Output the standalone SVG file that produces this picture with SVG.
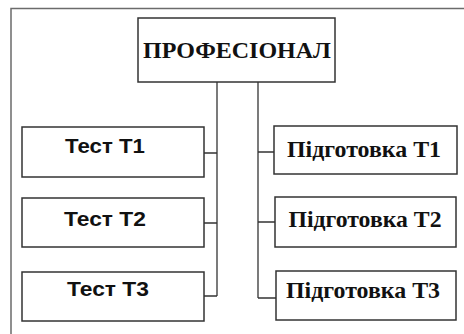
<svg xmlns="http://www.w3.org/2000/svg" width="464" height="334" viewBox="0 0 464 334">
<style>
.frame{fill:none;stroke:#6b6b6b;stroke-width:1.5}
.box{fill:#fff;stroke:#333;stroke-width:1.5}
.ln{fill:none;stroke:#333;stroke-width:1.3}
.serif{font-family:"Liberation Serif","Times New Roman",serif;font-weight:bold;fill:#111;text-anchor:middle}
.sans{font-family:"Liberation Sans",Arial,sans-serif;font-weight:bold;fill:#111;text-anchor:middle}
</style>
<rect width="464" height="334" fill="#fff"/>
<path class="frame" d="M11,334 V8.5 H464"/>
<g id="connectors">
<path class="ln" d="M217,82 V296"/>
<path class="ln" d="M258,82 V298"/>
<path class="ln" d="M204,153 H217 M204,223 H217 M204,296 H217"/>
<path class="ln" d="M258,152 H274 M258,222 H275 M258,298 H276"/>
</g>
<g id="profesional">
<rect class="box" x="138" y="18" width="197" height="64"/>
<text class="serif" x="237" y="58" font-size="24">ПРОФЕСІОНАЛ</text>
</g>
<g id="test1">
<rect class="box" x="22" y="127" width="182" height="50"/>
<text class="sans" x="105" y="153" font-size="20.5" textLength="80" lengthAdjust="spacingAndGlyphs">Тест Т1</text>
</g>
<g id="test2">
<rect class="box" x="22" y="198" width="182" height="49"/>
<text class="sans" x="105" y="226" font-size="20.5" textLength="82" lengthAdjust="spacingAndGlyphs">Тест Т2</text>
</g>
<g id="test3">
<rect class="box" x="22" y="272" width="182" height="49"/>
<text class="sans" x="108" y="296" font-size="20.5" textLength="82" lengthAdjust="spacingAndGlyphs">Тест Т3</text>
</g>
<g id="pidg1">
<rect class="box" x="274" y="126" width="183" height="48"/>
<text class="serif" x="364" y="157" font-size="23" textLength="154" lengthAdjust="spacingAndGlyphs">Підготовка Т1</text>
</g>
<g id="pidg2">
<rect class="box" x="275" y="197" width="181" height="50"/>
<text class="serif" x="365" y="227" font-size="23" textLength="153" lengthAdjust="spacingAndGlyphs">Підготовка Т2</text>
</g>
<g id="pidg3">
<rect class="box" x="276" y="271" width="180" height="49"/>
<text class="serif" x="363" y="298" font-size="23" textLength="154" lengthAdjust="spacingAndGlyphs">Підготовка Т3</text>
</g>
</svg>
